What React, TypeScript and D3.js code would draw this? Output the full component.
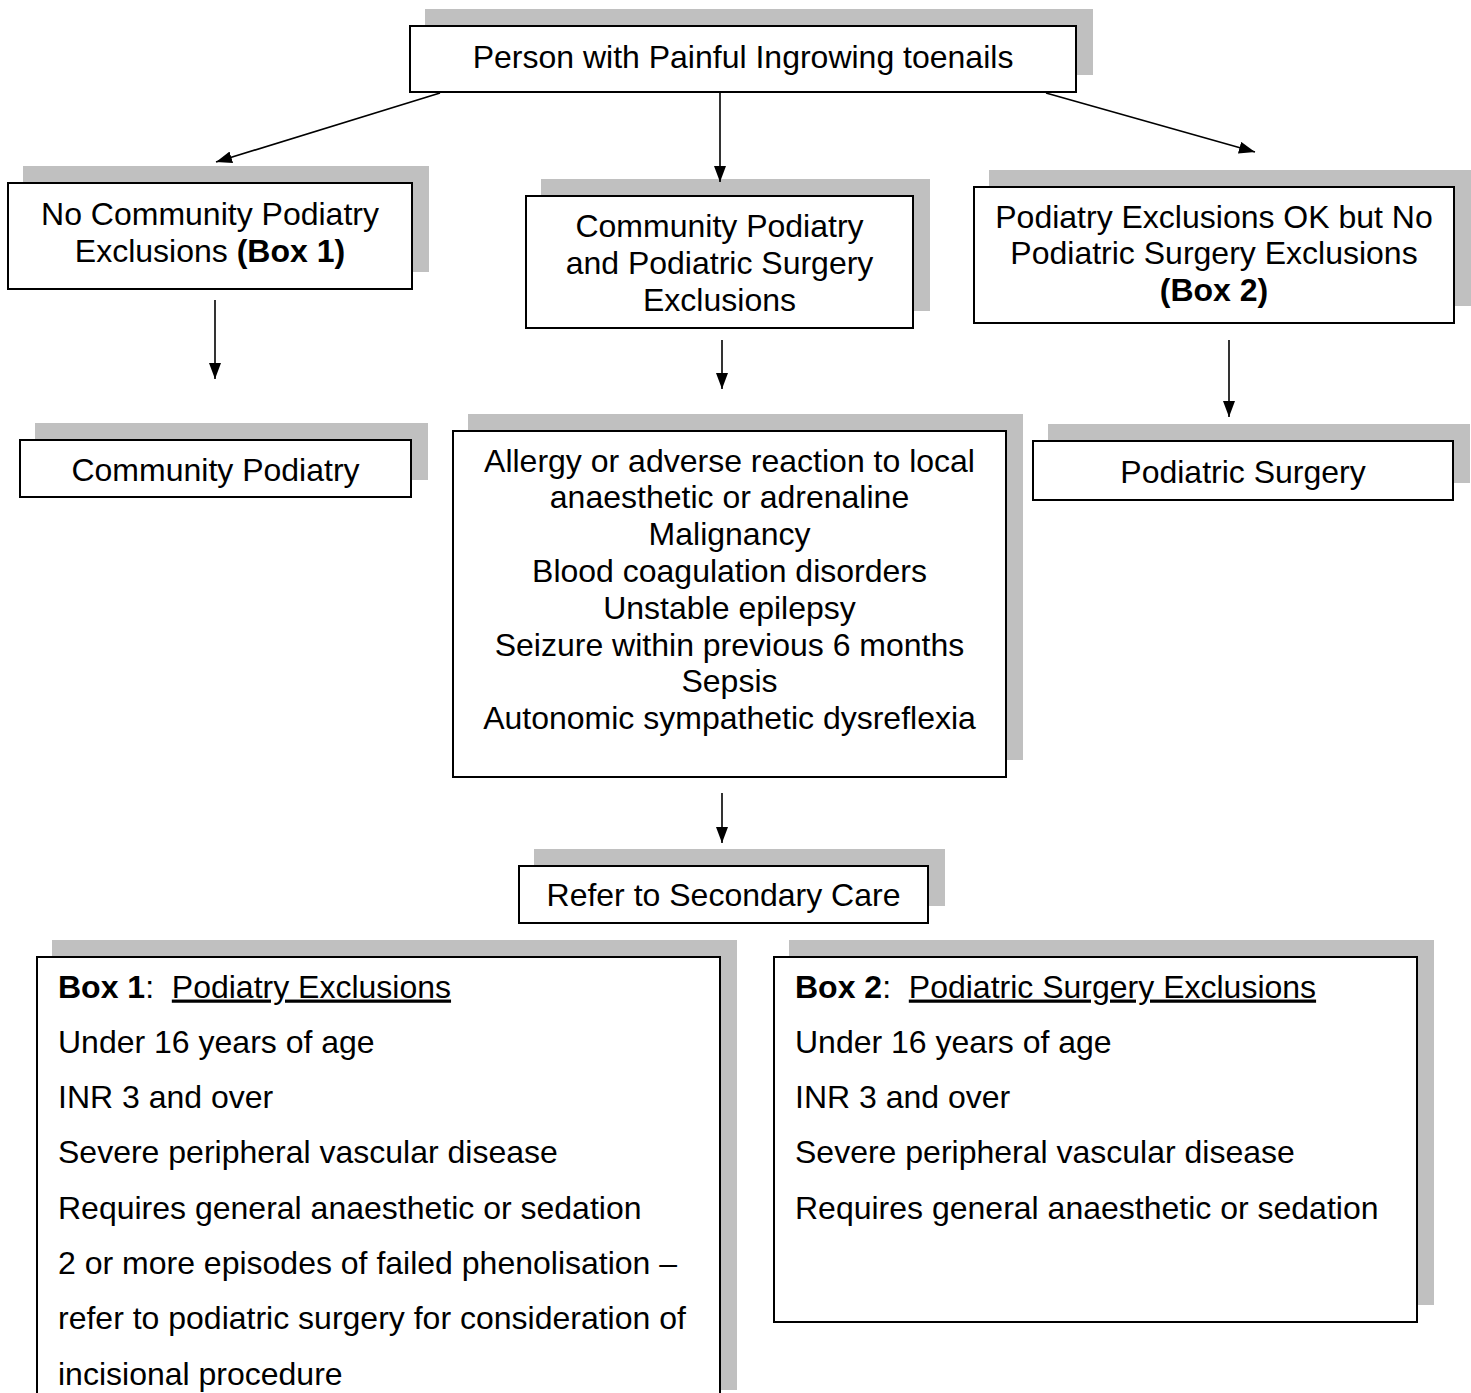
import { useEffect, useRef } from 'react';
import * as d3 from 'd3';

// text of each box; **bold**, __underline__
const rootLines = ['Person with Painful Ingrowing toenails'];
const noExclLines = ['No Community Podiatry', 'Exclusions **(Box 1)**'];
const bothExclLines = ['Community Podiatry', 'and Podiatric Surgery', 'Exclusions'];
const surgOkLines = ['Podiatry Exclusions OK but No', 'Podiatric Surgery Exclusions', '**(Box 2)**'];
const communityLines = ['Community Podiatry'];
const criteriaLines = [
  'Allergy or adverse reaction to local',
  'anaesthetic or adrenaline',
  'Malignancy',
  'Blood coagulation disorders',
  'Unstable epilepsy',
  'Seizure within previous 6 months',
  'Sepsis',
  'Autonomic sympathetic dysreflexia',
];
const surgeryLines = ['Podiatric Surgery'];
const secondaryLines = ['Refer to Secondary Care'];
const box1Lines = [
  '**Box 1**:  __Podiatry Exclusions__',
  'Under 16 years of age',
  'INR 3 and over',
  'Severe peripheral vascular disease',
  'Requires general anaesthetic or sedation',
  '2 or more episodes of failed phenolisation –',
  'refer to podiatric surgery for consideration of',
  'incisional procedure',
];
const box2Lines = [
  '**Box 2**:  __Podiatric Surgery Exclusions__',
  'Under 16 years of age',
  'INR 3 and over',
  'Severe peripheral vascular disease',
  'Requires general anaesthetic or sedation',
];

interface Node {
  id: string;
  lines: string[];
  x: number; y: number; w: number; h: number;
  firstY: number; gap: number; align: 'middle' | 'start';
}

const nodes: Node[] = [
  { id: 'root', lines: rootLines, x: 410, y: 26, w: 666, h: 66, firstY: 57, gap: 37, align: 'middle' },
  { id: 'a', lines: noExclLines, x: 8, y: 183, w: 404, h: 106, firstY: 214, gap: 37, align: 'middle' },
  { id: 'b', lines: bothExclLines, x: 526, y: 196, w: 387, h: 132, firstY: 226, gap: 37, align: 'middle' },
  { id: 'c', lines: surgOkLines, x: 974, y: 187, w: 480, h: 136, firstY: 217, gap: 36.5, align: 'middle' },
  { id: 'd', lines: communityLines, x: 20, y: 440, w: 391, h: 57, firstY: 470, gap: 37, align: 'middle' },
  { id: 'e', lines: criteriaLines, x: 453, y: 431, w: 553, h: 346, firstY: 461, gap: 36.8, align: 'middle' },
  { id: 'f', lines: surgeryLines, x: 1033, y: 441, w: 420, h: 59, firstY: 472, gap: 37, align: 'middle' },
  { id: 'g', lines: secondaryLines, x: 519, y: 866, w: 409, h: 57, firstY: 895, gap: 37, align: 'middle' },
  { id: 'h', lines: box1Lines, x: 37, y: 957, w: 683, h: 450, firstY: 987, gap: 55.3, align: 'start' },
  { id: 'i', lines: box2Lines, x: 774, y: 957, w: 643, h: 365, firstY: 987, gap: 55.3, align: 'start' },
];

const SHADOW_DX = 15;
const SHADOW_DY = -17;

// arrows: [x1, y1, x2, y2]
const arrows: [number, number, number, number][] = [
  [440, 93, 216, 162],
  [720, 93, 720, 182],
  [1046, 93, 1255, 152],
  [215, 300, 215, 379],
  [722, 340, 722, 389],
  [1229, 340, 1229, 417],
  [722, 793, 722, 843],
];

function parse(line: string) {
  return line
    .split(/(\*\*[^*]+\*\*|__[^_]+__)/)
    .filter(s => s.length > 0)
    .map(s => {
      if (s.startsWith('**')) return { text: s.slice(2, -2), bold: true, underline: false };
      if (s.startsWith('__')) return { text: s.slice(2, -2), bold: false, underline: true };
      return { text: s, bold: false, underline: false };
    });
}

export default function App() {
  const ref = useRef<SVGSVGElement | null>(null);

  useEffect(() => {
    const svg = d3.select(ref.current);
    svg.selectAll('*').remove();

    svg
      .append('defs')
      .append('marker')
      .attr('id', 'head')
      .attr('viewBox', '0 0 10 10')
      .attr('preserveAspectRatio', 'none')
      .attr('refX', 10)
      .attr('refY', 5)
      .attr('markerUnits', 'userSpaceOnUse')
      .attr('markerWidth', 16)
      .attr('markerHeight', 12)
      .attr('orient', 'auto')
      .append('path')
      .attr('d', 'M0,0L10,5L0,10Z')
      .attr('fill', '#000');

    // shadows
    svg
      .selectAll('.shadow')
      .data(nodes)
      .enter()
      .append('rect')
      .attr('class', 'shadow')
      .attr('x', d => d.x + SHADOW_DX)
      .attr('y', d => d.y + SHADOW_DY)
      .attr('width', d => d.w + 2)
      .attr('height', d => d.h)
      .attr('fill', '#c0c0c0');

    const g = svg
      .selectAll('.node')
      .data(nodes)
      .enter()
      .append('g')
      .attr('class', 'node');

    g.append('rect')
      .attr('x', d => d.x)
      .attr('y', d => d.y)
      .attr('width', d => d.w)
      .attr('height', d => d.h)
      .attr('fill', '#fff')
      .attr('stroke', '#000')
      .attr('stroke-width', 2);

    g.each(function (d) {
      const sel = d3.select(this);
      const tx = d.align === 'middle' ? d.x + d.w / 2 : d.x + 21;
      d.lines.forEach((line, i) => {
        const t = sel
          .append('text')
          .attr('x', tx)
          .attr('y', d.firstY + i * d.gap)
          .attr('dy', '0.33em')
          .attr('text-anchor', d.align)
          .attr('font-family', '"Liberation Sans", Arial, sans-serif')
          .attr('font-size', 32)
          .attr('fill', '#000')
          .style('white-space', 'pre');
        parse(line).forEach(seg => {
          t.append('tspan')
            .attr('font-weight', seg.bold ? 'bold' : 'normal')
            .style('text-decoration', seg.underline ? 'underline' : 'none')
            .text(seg.text);
        });
      });
    });

    svg
      .selectAll('.arrow')
      .data(arrows)
      .enter()
      .append('line')
      .attr('class', 'arrow')
      .attr('x1', d => d[0])
      .attr('y1', d => d[1])
      .attr('x2', d => d[2])
      .attr('y2', d => d[3])
      .attr('stroke', '#000')
      .attr('stroke-width', 1.6)
      .attr('marker-end', 'url(#head)');
  }, []);

  return (
    <svg
      ref={ref}
      width={1471}
      height={1393}
      style={{ position: 'absolute', left: 0, top: 0, background: '#fff' }}
    />
  );
}
